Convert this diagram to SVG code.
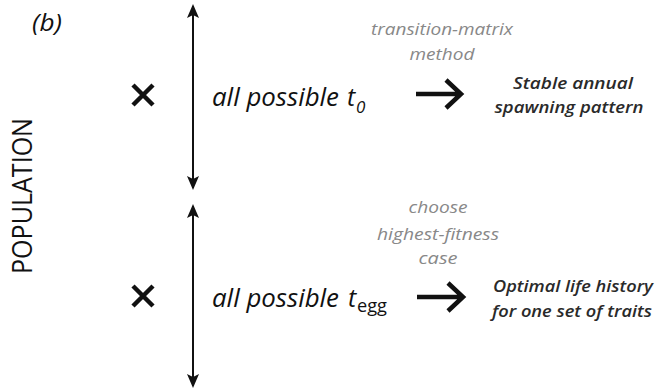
<svg xmlns="http://www.w3.org/2000/svg" width="658" height="388" viewBox="0 0 658 388">
<style>
.main{font-family:"Open Sans","Liberation Sans",sans-serif;font-style:italic;fill:#111}
.gray{font-family:"Open Sans","Liberation Sans",sans-serif;font-style:italic;fill:#888;font-size:17px;text-anchor:middle}
.res{font-family:"Open Sans","Liberation Sans",sans-serif;font-style:italic;font-weight:600;fill:#2a2a2a;font-size:17px;text-anchor:middle}
.vline{stroke:#111;stroke-width:2;fill:none}
.cross{stroke:#111;stroke-width:4.5;stroke-linecap:butt}
.harrow{stroke:#111;stroke-width:4.5;fill:none}
</style>
<defs>
<marker id="ah" viewBox="0 0 14 14" refX="12" refY="7" markerWidth="14" markerHeight="14" markerUnits="userSpaceOnUse" orient="auto-start-reverse">
<path d="M0,1 L14,7 L0,13 L3,7 Z" fill="#111"/>
</marker>
</defs>
<rect width="658" height="388" fill="#fff"/>
<text x="32" y="31" class="main" font-size="24" textLength="30" lengthAdjust="spacingAndGlyphs">(b)</text>
<text transform="translate(32,196) rotate(-90)" text-anchor="middle" font-family="'Open Sans','Liberation Sans',sans-serif" font-size="28" fill="#111" textLength="156" lengthAdjust="spacingAndGlyphs">POPULATION</text>
<g id="connectors">
<line class="vline" x1="193" y1="188" x2="193" y2="6" marker-end="url(#ah)" marker-start="url(#ah)"/>
<line class="vline" x1="193" y1="386" x2="193" y2="206" marker-end="url(#ah)" marker-start="url(#ah)"/>
<path class="harrow" d="M416,94 H460 M446,80 L461,94 L446,108"/>
<path class="harrow" d="M417,297 H462 M448,283 L463,297 L448,311"/>
</g>
<g id="top-row">
<path class="cross" d="M133,85 L153,105 M153,85 L133,105"/>
<text x="212" y="106" class="main" font-size="25" textLength="127" lengthAdjust="spacingAndGlyphs">all possible</text>
<text x="347" y="106" class="main" font-size="25">t</text>
<text x="356" y="113" class="main" font-size="17">0</text>
<text x="442" y="35" class="gray" textLength="142" lengthAdjust="spacingAndGlyphs">transition-matrix</text>
<text x="442" y="60" class="gray" textLength="65" lengthAdjust="spacingAndGlyphs">method</text>
<text x="573" y="89" class="res" textLength="120" lengthAdjust="spacingAndGlyphs">Stable annual</text>
<text x="569" y="113" class="res" textLength="149" lengthAdjust="spacingAndGlyphs">spawning pattern</text>
</g>
<g id="bottom-row">
<path class="cross" d="M133,286 L153,306 M153,286 L133,306"/>
<text x="212" y="307" class="main" font-size="25" textLength="127" lengthAdjust="spacingAndGlyphs">all possible</text>
<text x="348" y="307" class="main" font-size="25">t</text>
<text x="357" y="312" class="main" font-size="19" style="font-style:normal" textLength="30" lengthAdjust="spacingAndGlyphs">egg</text>
<text x="438" y="213" class="gray" textLength="59" lengthAdjust="spacingAndGlyphs">choose</text>
<text x="438" y="240" class="gray" textLength="122" lengthAdjust="spacingAndGlyphs">highest-fitness</text>
<text x="438" y="264" class="gray" textLength="39" lengthAdjust="spacingAndGlyphs">case</text>
<text x="573" y="292" class="res" textLength="160" lengthAdjust="spacingAndGlyphs">Optimal life history</text>
<text x="572" y="317" class="res" textLength="160" lengthAdjust="spacingAndGlyphs">for one set of traits</text>
</g>
</svg>
